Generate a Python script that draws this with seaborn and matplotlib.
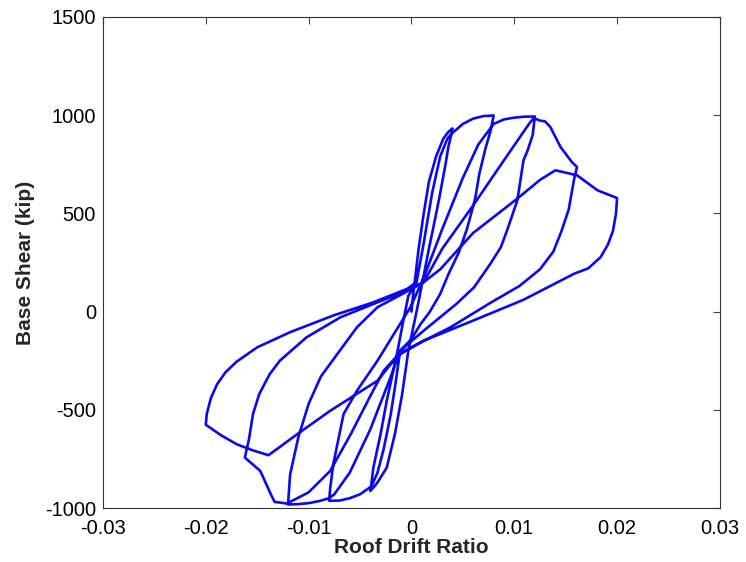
import numpy as np
import pandas as pd
import matplotlib
matplotlib.use("Agg")
import matplotlib.pyplot as plt
import seaborn as sns

# ---- digitised hysteresis path, one small array per half-cycle ----
# cycle 1 (+/-0.004)
c1_up_x = [0.0, 0.0002, 0.0004, 0.0007, 0.0012, 0.0017, 0.0024, 0.0031, 0.0036, 0.0040]
c1_up_y = [0, 100, 184, 320, 500, 660, 790, 880, 915, 932]
c1_dn_x = [0.0039, 0.0036, 0.0033, 0.0027, 0.0021, 0.0017, 0.0012, 0.0005, -0.0003, -0.0009, -0.0016, -0.0024, -0.0033, -0.0037, -0.0040]
c1_dn_y = [905, 840, 745, 575, 420, 320, 184, 0, -199, -420, -622, -794, -870, -896, -913]
c1_rt_x = [-0.0039, -0.0037, -0.0030, -0.0024, -0.0014, -0.0008, -0.0003, 0.0005]
c1_rt_y = [-880, -794, -624, -454, -214, -50, 80, 150]
# cycle 2 (+/-0.008)
c2_up_x = [0.0012, 0.0020, 0.0028, 0.0035, 0.0039, 0.0050, 0.0060, 0.0070, 0.0080]
c2_up_y = [350, 600, 790, 880, 905, 955, 982, 995, 998]
c2_dn_x = [0.0077, 0.0072, 0.0066, 0.0062, 0.0054, 0.0046, 0.0036, 0.0028, 0.0018, 0.0009, 0.0, -0.0011,
           -0.0015, -0.0020, -0.0027, -0.0033, -0.0039, -0.0050, -0.0060, -0.0070, -0.0080]
c2_dn_y = [920, 830, 700, 575, 420, 300, 190, 90, 0, -63, -140, -200,
           -350, -520, -700, -820, -890, -930, -950, -962, -963]
c2_rt_x = [-0.0079, -0.0076, -0.0066, -0.0053, -0.0033, -0.0017, -0.0001, 0.0010]
c2_rt_y = [-900, -777, -522, -403, -250, -114, 22, 150]
# cycle 3 (+/-0.012)
c3_up_x = [0.0014, 0.0030, 0.0050, 0.0065, 0.0075, 0.0080, 0.0090, 0.0100, 0.0110, 0.0120]
c3_up_y = [200, 420, 680, 850, 920, 955, 978, 987, 992, 993]
c3_dn_x = [0.0118, 0.0113, 0.0109, 0.0103, 0.0093, 0.0087, 0.0077, 0.0061, 0.0044, 0.0030, 0.0012, -0.0011,
           -0.0020, -0.0040, -0.0060, -0.0075, -0.0080, -0.0090, -0.0100, -0.0110, -0.0120]
c3_dn_y = [900, 820, 770, 566, 413, 328, 245, 124, 40, -20, -97, -200,
           -330, -600, -820, -930, -950, -965, -975, -980, -982]
c3_rt_x = [-0.0118, -0.0110, -0.0100, -0.0088, -0.0072, -0.0053, -0.0033, -0.0008, 0.0012]
c3_rt_y = [-830, -640, -470, -330, -216, -80, 22, 92, 150]
# cycle 4 (+/-0.016)
c4_up_x = [0.0030, 0.0060, 0.0090, 0.0115, 0.0119, 0.0125, 0.0130, 0.0135, 0.0145, 0.0156, 0.0161]
c4_up_y = [320, 540, 770, 960, 985, 972, 968, 940, 838, 761, 736]
c4_dn_x = [0.0158, 0.0153, 0.0146, 0.0138, 0.0125, 0.0105, 0.0077, 0.0038, 0.0006, -0.0012,
           -0.0027, -0.0040, -0.0059, -0.0079, -0.0100, -0.0121, -0.0128, -0.0133, -0.0136, -0.0147, -0.0162]
c4_dn_y = [668, 520, 410, 305, 215, 130, 45, -80, -165, -215,
           -301, -430, -624, -811, -920, -977, -972, -969, -938, -811, -743]
c4_rt_x = [-0.0158, -0.0154, -0.0148, -0.0138, -0.0128, -0.0102, -0.0069, -0.0033, -0.0004, 0.0012]
c4_rt_y = [-650, -520, -420, -320, -250, -131, -29, 47, 107, 150]
# cycle 5 (+/-0.020)
c5_up_x = [0.0028, 0.0060, 0.0103, 0.0125, 0.0140, 0.0161, 0.0181, 0.0200]
c5_up_y = [215, 400, 575, 670, 719, 694, 617, 578]
c5_dn_x = [0.0199, 0.0196, 0.0191, 0.0184, 0.0172, 0.0158, 0.0109, 0.0060, 0.0012, -0.0010,
           -0.0020, -0.0033, -0.0079, -0.0110, -0.0139, -0.0155, -0.0170, -0.0185, -0.0200]
c5_dn_y = [500, 410, 340, 277, 220, 192, 60, -46, -148, -214,
           -267, -352, -505, -620, -731, -705, -675, -630, -576]
c5_rt_x = [-0.0199, -0.0195, -0.0189, -0.0181, -0.0170, -0.0150, -0.0118, -0.0076, -0.0037, -0.0004, 0.0005]
c5_rt_y = [-520, -440, -370, -310, -255, -182, -105, -20, 47, 116, 150]

branches_x = [c1_up_x, c1_dn_x, c1_rt_x, c2_up_x, c2_dn_x, c2_rt_x, c3_up_x, c3_dn_x, c3_rt_x,
              c4_up_x, c4_dn_x, c4_rt_x, c5_up_x, c5_dn_x, c5_rt_x]
branches_y = [c1_up_y, c1_dn_y, c1_rt_y, c2_up_y, c2_dn_y, c2_rt_y, c3_up_y, c3_dn_y, c3_rt_y,
              c4_up_y, c4_dn_y, c4_rt_y, c5_up_y, c5_dn_y, c5_rt_y]

drift = np.concatenate(branches_x)
shear = np.concatenate(branches_y)
df = pd.DataFrame({"drift": drift, "shear": shear, "order": np.arange(len(drift))})

x_ticks = [-0.03, -0.02, -0.01, 0, 0.01, 0.02, 0.03]
x_labels = ["-0.03", "-0.02", "-0.01", "0", "0.01", "0.02", "0.03"]
y_ticks = [-1000, -500, 0, 500, 1000, 1500]
y_labels = ["-1000", "-500", "0", "500", "1000", "1500"]

sns.set_theme(style="white")
plt.rcParams["font.family"] = ["Liberation Sans", "DejaVu Sans"]

fig = plt.figure(figsize=(7.46, 5.62), dpi=100)
ax = fig.add_axes([0.138, 0.096, 0.827, 0.874])
sns.lineplot(data=df, x="drift", y="shear", sort=False, estimator=None,
             color="#0A0AF0", linewidth=1.9, ax=ax)

ax.set_xlim(-0.03, 0.03)
ax.set_ylim(-1000, 1500)
ax.set_xticks(x_ticks)
ax.set_xticklabels(x_labels)
ax.set_yticks(y_ticks)
ax.set_yticklabels(y_labels)
ax.tick_params(direction="in", length=5, width=0.8, color="#444444",
               labelsize=14.5, top=True, right=True, labelcolor="black")
ax.tick_params(axis="x", pad=8)
ax.tick_params(axis="y", pad=5)
for s in ax.spines.values():
    s.set_visible(True)
    s.set_color("#333333")
    s.set_linewidth(0.8)
ax.set_xlabel("Roof Drift Ratio", fontsize=15, fontweight="bold", labelpad=0)
ax.set_ylabel("Base Shear (kip)", fontsize=15, fontweight="bold", labelpad=7)

fig.savefig("out.png", dpi=100)
